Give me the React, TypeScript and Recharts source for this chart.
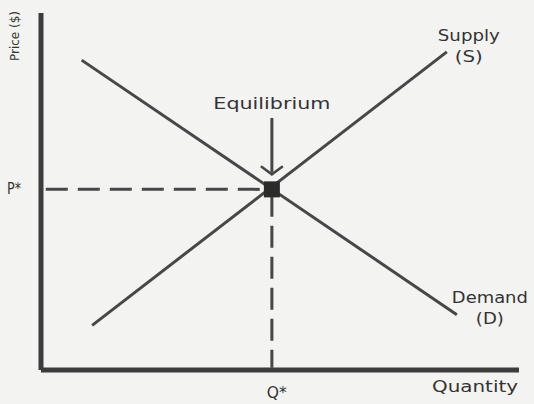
import { ComposedChart, Line, Scatter, XAxis, YAxis, ReferenceLine, ReferenceDot, Label } from 'recharts';

// quantity / price pairs (0-100 scale on both axes)
const demandQ = [8.5, 87];
const demandP = [86.8, 15.5];
const supplyQ = [10.7, 84.9];
const supplyP = [12.5, 89.1];
const equilibrium = { q: 48.3, p: 50.6 };
const arrowTop = 70.6;
const arrowTip = 54.8;
const arrowHeadQ = [46, 48.3, 50.6];
const arrowHeadP = [57.1, 54.8, 57.1];
const xTicks = [equilibrium.q];
const yTicks = [equilibrium.p];

const ink = '#333333';
const lineInk = '#474747';
const font = '"DejaVu Sans", Verdana, sans-serif';

const demand = demandQ.map((q, i) => ({ q, p: demandP[i] }));
const supply = supplyQ.map((q, i) => ({ q, p: supplyP[i] }));
const arrowHead = arrowHeadQ.map((q, i) => ({ q, p: arrowHeadP[i] }));

const textLabel = (lines: string[], dx: number, dy: number, widths: number[], anchor = 'middle', size = 15) =>
  (props: any) => {
    const vb = props.viewBox || {};
    const cx = (vb.x ?? 0) + (vb.width ?? 0) / 2;
    const cy = (vb.y ?? 0) + (vb.height ?? 0) / 2;
    return (
      <g>
        {lines.map((t, i) => (
          <text
            key={t}
            x={cx + dx}
            y={cy + dy + i * 21}
            textAnchor={anchor}
            fontFamily={font}
            fontSize={size}
            fill={ink}
            textLength={widths[i]}
            lengthAdjust="spacingAndGlyphs"
          >
            {t}
          </text>
        ))}
      </g>
    );
  };

const xTick = (props: any) => (
  <text x={props.x + 5} y={props.y + 20} textAnchor="middle" fontFamily={font} fontSize={15} fill={ink} textLength={20} lengthAdjust="spacingAndGlyphs">
    Q*
  </text>
);

const yTick = (props: any) => (
  <text x={props.x - 26} y={props.y + 5} textAnchor="start" fontFamily={font} fontSize={15} fill={ink} textLength={14} lengthAdjust="spacingAndGlyphs">
    P*
  </text>
);

const squareDot = (props: any) => (
  <rect x={props.cx - 8} y={props.cy - 8} width={16} height={16} fill="#2b2b2b" />
);

export default function App() {
  return (
    <div style={{ position: 'fixed', left: 0, top: 0, width: 534, height: 404, background: '#f3f3f1' }}>
      <ComposedChart width={534} height={404} margin={{ top: 13, right: 15, left: 0, bottom: 0 }}>
        <XAxis
          type="number"
          dataKey="q"
          domain={[0, 100]}
          ticks={xTicks}
          tick={xTick}
          tickLine={false}
          axisLine={{ stroke: '#3c3c3c', strokeWidth: 5 }}
          height={34}
          allowDataOverflow
        >
          <Label content={(p: any) => (
            <text x={p.viewBox.x + p.viewBox.width - 1} y={p.viewBox.y + 22} textAnchor="end" fontFamily={font} fontSize={16} fill={ink} textLength={86} lengthAdjust="spacingAndGlyphs">
              Quantity
            </text>
          )} />
        </XAxis>
        <YAxis
          type="number"
          dataKey="p"
          domain={[0, 100]}
          ticks={yTicks}
          tick={yTick}
          tickLine={false}
          axisLine={{ stroke: '#3c3c3c', strokeWidth: 5 }}
          width={41}
          allowDataOverflow
        >
          <Label content={(p: any) => (
            <text x={0} y={0} transform={`translate(${p.viewBox.x + 19}, ${p.viewBox.y + 23}) rotate(-90)`} textAnchor="middle" fontFamily={font} fontSize={12} fill={ink}>
              Price ($)
            </text>
          )} />
        </YAxis>

        <ReferenceLine
          segment={[{ x: 1, y: equilibrium.p }, { x: equilibrium.q - 2, y: equilibrium.p }]}
          stroke={lineInk}
          strokeWidth={3}
          strokeDasharray="22 10"
        />
        <ReferenceLine
          segment={[{ x: equilibrium.q, y: equilibrium.p - 1.5 }, { x: equilibrium.q, y: 0.6 }]}
          stroke={lineInk}
          strokeWidth={3}
          strokeDasharray="22 9"
        />

        <Line data={demand} dataKey="p" stroke={lineInk} strokeWidth={3} dot={false} isAnimationActive={false} />
        <Line data={supply} dataKey="p" stroke={lineInk} strokeWidth={3} dot={false} isAnimationActive={false} />

        <ReferenceLine
          segment={[{ x: equilibrium.q, y: arrowTop }, { x: equilibrium.q, y: arrowTip + 0.5 }]}
          stroke={lineInk}
          strokeWidth={3}
        />
        <Line data={arrowHead} dataKey="p" stroke={lineInk} strokeWidth={2.5} dot={false} isAnimationActive={false} />

        <Scatter data={[equilibrium]} dataKey="p" shape={squareDot} isAnimationActive={false} />

        <ReferenceDot x={equilibrium.q} y={arrowTop} r={0} stroke="none" fill="none">
          <Label content={textLabel(['Equilibrium'], 0, -9, [117])} />
        </ReferenceDot>
        <ReferenceDot x={supplyQ[1]} y={supplyP[1]} r={0} stroke="none" fill="none">
          <Label content={textLabel(['Supply', '(S)'], 22, -11, [62, 28])} />
        </ReferenceDot>
        <ReferenceDot x={demandQ[1]} y={demandP[1]} r={0} stroke="none" fill="none">
          <Label content={textLabel(['Demand', '(D)'], 33, -12, [76, 28])} />
        </ReferenceDot>
      </ComposedChart>
    </div>
  );
}
